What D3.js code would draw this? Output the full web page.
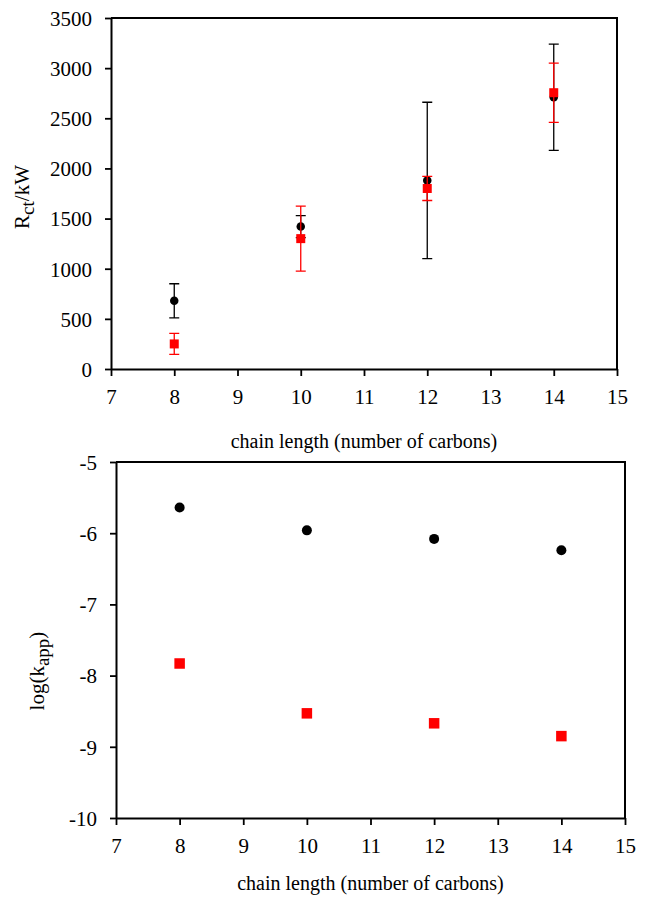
<!DOCTYPE html>
<html>
<head>
<meta charset="utf-8">
<script src="https://cdn.jsdelivr.net/npm/d3@7"></script>
<style>
  body { margin: 0; background: #fff; }
  svg { display: block; font-family: "Liberation Serif", "DejaVu Serif", serif; }
  svg text { font-family: "Liberation Serif", "DejaVu Serif", serif; }
</style>
</head>
<body>
<svg id="chart" width="645" height="908"></svg>
<script>
// chain length (number of carbons)
var chainLength = [8, 10, 12, 14];
var xTicks = [7, 8, 9, 10, 11, 12, 13, 14, 15];

// top panel: Rct
var rctBlack = [680, 1420, 1880, 2710];
var rctBlackErr = [170, 110, 780, 530];
var rctRed = [250, 1300, 1800, 2755];
var rctRedErr = [105, 325, 120, 295];
var rctTicks = [0, 500, 1000, 1500, 2000, 2500, 3000, 3500];

// bottom panel: log(kapp)
var logkBlack = [-5.64, -5.96, -6.08, -6.24];
var logkRed = [-7.83, -8.53, -8.67, -8.85];
var logkTicks = [-10, -9, -8, -7, -6, -5];

var RED = "#ff0000";
var svg = d3.select("#chart");

function drawPanel(opt)
{
    var g = svg.append("g");
    var x = d3.scaleLinear().domain([7, 15]).range([opt.left, opt.right]);
    var y = d3.scaleLinear().domain(opt.yDomain).range([opt.bottom, opt.top]);

    // frame (top and right side)
    g.append("path")
        .attr("d", `M${opt.left},${opt.top}H${opt.right}V${opt.bottom}`)
        .attr("fill", "none").attr("stroke", "#000").attr("stroke-width", 2);

    // plain labels, hyphen for the minus sign like the original
    var fmt = d => String(d);

    // x axis
    var xAxis = g.append("g")
        .attr("transform", `translate(0,${opt.bottom})`)
        .call(d3.axisBottom(x).tickValues(xTicks).tickFormat(fmt).tickSize(7).tickSizeOuter(0).tickPadding(13));
    // y axis
    var yAxis = g.append("g")
        .attr("transform", `translate(${opt.left},0)`)
        .call(d3.axisLeft(y).tickValues(opt.yTicks).tickFormat(fmt).tickSize(6).tickSizeOuter(0).tickPadding(13));

    [xAxis, yAxis].forEach(function(a) {
        a.attr("font-family", null).attr("font-size", 21);
        a.select(".domain").attr("stroke-width", 2);
        a.selectAll(".tick line").attr("stroke-width", 1.8);
        a.selectAll(".tick text").attr("fill", "#000");
    });
    yAxis.selectAll(".tick text").attr("dy", "0.35em");

    // x title
    g.append("text")
        .attr("x", (opt.left + opt.right) / 2)
        .attr("y", opt.bottom + opt.xTitleGap)
        .attr("text-anchor", "middle")
        .attr("font-size", 20)
        .text("chain length (number of carbons)");

    // y title with subscript
    var yt = g.append("text")
        .attr("transform", `translate(${opt.yTitleX},${opt.yTitleY}) rotate(-90)`)
        .attr("text-anchor", "middle")
        .attr("font-size", 21);
    yt.append("tspan").text(opt.yTitle[0]);
    yt.append("tspan").attr("baseline-shift", "-25%").attr("font-size", 19).text(opt.yTitle[1]);
    yt.append("tspan").text(opt.yTitle[2]);

    // series: black circles first, red squares on top
    opt.series.forEach(function(s) {
        if (s.err)
        {
            var eb = g.append("g").attr("stroke", s.color).attr("stroke-width", 1.3).attr("fill", "none");
            chainLength.forEach(function(c, i) {
                var cx = x(c), hi = y(s.values[i] + s.err[i]), lo = y(s.values[i] - s.err[i]);
                eb.append("path")
                    .attr("d", `M${cx},${hi}V${lo}M${cx - 5},${hi}H${cx + 5}M${cx - 5},${lo}H${cx + 5}`);
            });
        }
        var pts = g.append("g").attr("fill", s.color);
        if (s.shape == "circle")
        {
            pts.selectAll("circle").data(s.values).join("circle")
                .attr("cx", (d, i) => x(chainLength[i]))
                .attr("cy", d => y(d))
                .attr("r", s.size / 2);
        }
        else
        {
            pts.selectAll("rect").data(s.values).join("rect")
                .attr("x", (d, i) => x(chainLength[i]) - s.size / 2)
                .attr("y", d => y(d) - s.size / 2)
                .attr("width", s.size)
                .attr("height", s.size);
        }
    });
}

drawPanel({
    left: 111, right: 617, top: 18, bottom: 369,
    yDomain: [0, 3500], yTicks: rctTicks,
    xTitleGap: 79,
    yTitle: ["R", "ct", "/kW"], yTitleX: 29, yTitleY: 197,
    series: [
        { values: rctBlack, err: rctBlackErr, color: "#000", shape: "circle", size: 8.5 },
        { values: rctRed, err: rctRedErr, color: RED, shape: "square", size: 9 }
    ]
});

drawPanel({
    left: 116, right: 625, top: 462, bottom: 818,
    yDomain: [-10, -5], yTicks: logkTicks,
    xTitleGap: 72,
    yTitle: ["log(k", "app", ")"], yTitleX: 44, yTitleY: 671,
    series: [
        { values: logkBlack, color: "#000", shape: "circle", size: 10 },
        { values: logkRed, color: RED, shape: "square", size: 10.5 }
    ]
});
</script>
</body>
</html>
